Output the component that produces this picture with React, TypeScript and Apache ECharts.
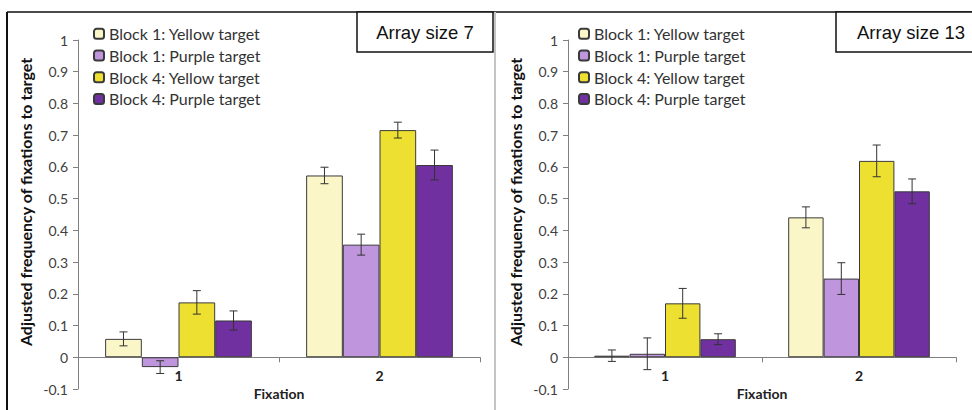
import React, { useEffect, useRef } from "react";
import * as echarts from "echarts";

const categories = ["1", "2"];
const seriesNames = [
  "Block 1: Yellow target",
  "Block 1: Purple target",
  "Block 4: Yellow target",
  "Block 4: Purple target",
];
const seriesColors = ["#FAF6C8", "#BF95DE", "#EDE030", "#7030A0"];

// Array size 7
const b1Yellow7 = [0.058, 0.573];
const b1Purple7 = [-0.031, 0.355];
const b4Yellow7 = [0.173, 0.716];
const b4Purple7 = [0.116, 0.606];
const b1Yellow7Err = [0.022, 0.026];
const b1Purple7Err = [0.02, 0.033];
const b4Yellow7Err = [0.037, 0.025];
const b4Purple7Err = [0.03, 0.047];

// Array size 13
const b1Yellow13 = [0.005, 0.441];
const b1Purple13 = [0.011, 0.248];
const b4Yellow13 = [0.17, 0.619];
const b4Purple13 = [0.057, 0.523];
const b1Yellow13Err = [0.018, 0.033];
const b1Purple13Err = [0.05, 0.05];
const b4Yellow13Err = [0.047, 0.05];
const b4Purple13Err = [0.017, 0.039];

const yTicksMin = -0.1;
const yTicksMax = 1;
const yTicksInterval = 0.1;

const panelTitles = ["Array size 7", "Array size 13"];
const yAxisTitle = "Adjusted frequency of fixations to target";
const xAxisTitle = "Fixation";

const CAT_GAP = 0.27;
const FONT = "Lato, 'Open Sans', sans-serif";

function buildPanel(
  idx: number,
  values: number[][],
  errs: number[][]
): any[] {
  const out: any[] = [];
  values.forEach((vals, k) => {
    out.push({
      type: "bar",
      name: seriesNames[k],
      xAxisIndex: idx,
      yAxisIndex: idx,
      data: vals,
      barGap: "0%",
      barCategoryGap: CAT_GAP * 100 + "%",
      itemStyle: {
        color: seriesColors[k],
        borderColor: "#3a3a3a",
        borderWidth: 1,
      },
    });
  });
  values.forEach((vals, k) => {
    out.push({
      type: "custom",
      name: seriesNames[k] + " err",
      xAxisIndex: idx,
      yAxisIndex: idx,
      silent: true,
      z: 10,
      encode: { x: 0, y: 1 },
      data: vals.map((v, i) => [i, v, errs[k][i]]),
      renderItem: (params: any, api: any) => {
        const ci = api.value(0);
        const v = api.value(1);
        const e = api.value(2);
        const catW = api.size([1, 0])[0];
        const barW = (catW * (1 - CAT_GAP)) / 4;
        const off = (k - 1.5) * barW;
        const top = api.coord([ci, v + e]);
        const bot = api.coord([ci, v - e]);
        const x = top[0] + off;
        const cap = 4;
        const st = { stroke: "#333", lineWidth: 1 };
        return {
          type: "group",
          children: [
            { type: "line", shape: { x1: x, y1: top[1], x2: x, y2: bot[1] }, style: st },
            { type: "line", shape: { x1: x - cap, y1: top[1], x2: x + cap, y2: top[1] }, style: st },
            { type: "line", shape: { x1: x - cap, y1: bot[1], x2: x + cap, y2: bot[1] }, style: st },
          ],
        };
      },
    });
  });
  return out;
}

export default function App() {
  const ref = useRef<HTMLDivElement>(null);
  useEffect(() => {
    if (!ref.current) return;
    const chart = echarts.init(ref.current, undefined, { renderer: "svg" });
    const axisColor = "#7f7f7f";
    const makeX = (gi: number) => ({
      type: "category",
      gridIndex: gi,
      data: categories,
      axisLine: { onZero: true, lineStyle: { color: axisColor, width: 1 } },
      axisTick: { show: true, length: 5, lineStyle: { color: axisColor } },
      axisLabel: {
        color: "#222",
        fontFamily: FONT,
        fontWeight: "bold",
        fontSize: 14,
        margin: -21,
      },
      name: xAxisTitle,
      nameLocation: "middle",
      nameGap: -7,
      nameTextStyle: {
        color: "#222",
        fontFamily: FONT,
        fontWeight: "bold",
        fontSize: 14,
      },
    });
    const makeY = (gi: number) => ({
      type: "value",
      gridIndex: gi,
      min: yTicksMin,
      max: yTicksMax,
      interval: yTicksInterval,
      splitLine: { show: false },
      axisLine: { show: true, lineStyle: { color: axisColor, width: 1 } },
      axisTick: { show: true, length: 5, lineStyle: { color: axisColor } },
      axisLabel: {
        color: "#404040",
        fontFamily: FONT,
        fontSize: 14,
        margin: 10,
        formatter: (v: number) => String(Number(v.toFixed(1))),
      },
    });
    const legendCommon = {
      orient: "vertical",
      top: 24,
      padding: 0,
      itemWidth: 10,
      itemHeight: 10,
      itemGap: 2,
      data: seriesNames,
      textStyle: {
        color: "#333",
        fontFamily: FONT,
        fontSize: 16,
        lineHeight: 19.7,
      },
    };
    const titleBox = (x: number, w: number, text: string) => [
      {
        type: "rect",
        shape: { x, y: 12, width: w, height: 40 },
        style: { fill: "#fff", stroke: "#111", lineWidth: 1.5 },
        z: 100,
      },
      {
        type: "text",
        x: x + w / 2,
        y: 32,
        style: {
          text,
          fill: "#111",
          font: "18.5px 'Liberation Sans', Arial, sans-serif",
          align: "center",
          verticalAlign: "middle",
        },
        z: 101,
      },
    ];
    const yTitle = (x: number) => ({
      type: "text",
      x,
      y: 202,
      rotation: Math.PI / 2,
      style: {
        text: yAxisTitle,
        fill: "#111",
        font: "bold 16px Lato, 'Open Sans', sans-serif",
        align: "center",
        verticalAlign: "middle",
      },
    });
    chart.setOption({
      animation: false,
      backgroundColor: "#fff",
      grid: [
        { left: 78, right: 492, top: 40, bottom: 21, outerBoundsMode: "none", containLabel: false },
        { left: 568, right: 16, top: 40, bottom: 21, outerBoundsMode: "none", containLabel: false },
      ],
      xAxis: [makeX(0), makeX(1)],
      yAxis: [makeY(0), makeY(1)],
      legend: [
        { ...legendCommon, left: 93 },
        { ...legendCommon, left: 578 },
      ],
      graphic: [
        {
          type: "line",
          shape: { x1: 7, y1: 12, x2: 972, y2: 12 },
          style: { stroke: "#111", lineWidth: 1.5 },
        },
        {
          type: "line",
          shape: { x1: 7, y1: 12, x2: 7, y2: 410 },
          style: { stroke: "#111", lineWidth: 2 },
        },
        {
          type: "line",
          shape: { x1: 495, y1: 12, x2: 495, y2: 410 },
          style: { stroke: "#c4c4c4", lineWidth: 2 },
        },
        ...titleBox(357, 136, panelTitles[0]),
        ...titleBox(836, 150, panelTitles[1]),
        yTitle(25),
        yTitle(515),
      ],
      series: [
        ...buildPanel(
          0,
          [b1Yellow7, b1Purple7, b4Yellow7, b4Purple7],
          [b1Yellow7Err, b1Purple7Err, b4Yellow7Err, b4Purple7Err]
        ),
        ...buildPanel(
          1,
          [b1Yellow13, b1Purple13, b4Yellow13, b4Purple13],
          [b1Yellow13Err, b1Purple13Err, b4Yellow13Err, b4Purple13Err]
        ),
      ],
    });
    return () => chart.dispose();
  }, []);
  return (
    <div
      ref={ref}
      style={{ position: "absolute", left: 0, top: 0, width: 972, height: 410 }}
    />
  );
}
